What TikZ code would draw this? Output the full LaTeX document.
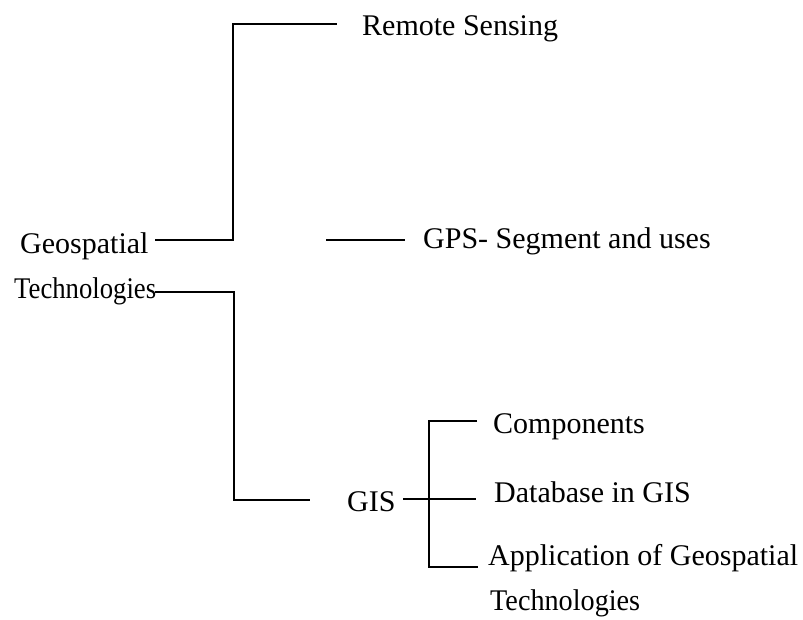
\documentclass[tikz,border=0pt]{standalone}
\usepackage{fontspec}
\setmainfont{Liberation Serif}
\begin{document}
\begin{tikzpicture}[x=1pt,y=-1pt,
  txt/.style={anchor=base west, inner sep=0pt, font=\fontsize{30}{36}\selectfont},
  conn/.style={line width=1.3pt}]
\useasboundingbox (0,0) rectangle (803,619);
% text nodes
\node[txt] (rs)   at (362,35)  {Remote Sensing};
\node[txt] (geo)  at (20,253)  {Geospatial};
\node[txt] (tech) at (14,298)  {\scalebox{0.89}[1]{Technologies}};
\node[txt] (gps)  at (423,248) {GPS- Segment and uses};
\node[txt] (gis)  at (347,511) {GIS};
\node[txt] (comp) at (493,433) {Components};
\node[txt] (db)   at (494,502) {Database in GIS};
\node[txt] (app)  at (488,565) {Application of Geospatial};
\node[txt] (app2) at (490,610) {\scalebox{0.94}[1]{Technologies}};
% junction coordinates
\coordinate (g0) at (155,240);
\coordinate (g1) at (233,240);
\coordinate (g2) at (233,24);
\coordinate (g3) at (337,24);
\coordinate (p0) at (326,240);
\coordinate (p1) at (405,240);
\coordinate (t0) at (155,292);
\coordinate (t1) at (234,292);
\coordinate (t2) at (234,500);
\coordinate (t3) at (310,500);
\coordinate (s0) at (403,499);
\coordinate (s1) at (476,499);
\coordinate (c0) at (477,421);
\coordinate (c1) at (429,421);
\coordinate (c2) at (429,567);
\coordinate (c3) at (478,567);
% connectors
\draw[conn] (g0) -- (g1) -- (g2) -- (g3);
\draw[conn] (p0) -- (p1);
\draw[conn] (t0) -- (t1) -- (t2) -- (t3);
\draw[conn] (s0) -- (s1);
\draw[conn] (c0) -- (c1) -- (c2) -- (c3);
\end{tikzpicture}
\end{document}
